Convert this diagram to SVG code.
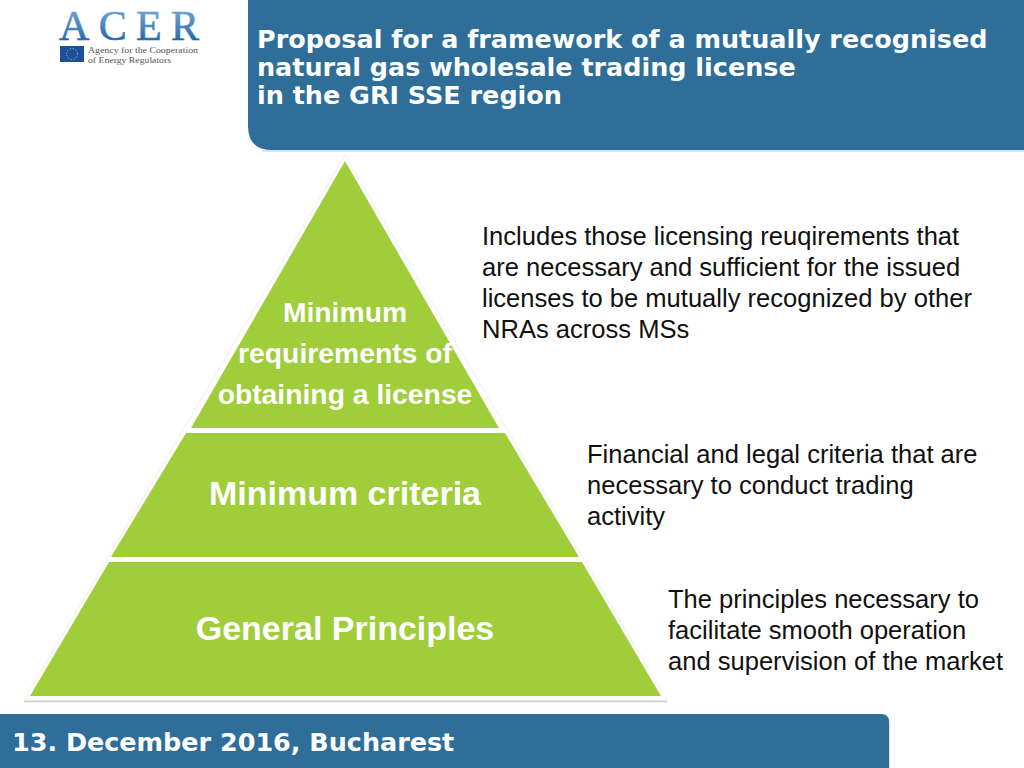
<svg xmlns="http://www.w3.org/2000/svg" width="1024" height="768" viewBox="0 0 1024 768">
<style>
.band{fill:#2e6e99}
.hd{font-family:"DejaVu Sans",Verdana,sans-serif;font-weight:700;fill:#fff;font-size:25.45px}
.lab{font-family:"Liberation Sans",Arial,sans-serif;font-weight:700;fill:#fff;text-anchor:middle}
.note{font-family:"Liberation Sans",Arial,sans-serif;font-size:25.55px;fill:#111}
.tier{fill:#a0cd3a}
.sm{font-family:"Liberation Serif",serif;font-size:8.7px;fill:#555}
</style>
<defs>
<linearGradient id="acer" x1="0" y1="0" x2="0" y2="1"><stop offset="0" stop-color="#7fb2dc"/><stop offset="1" stop-color="#12589f"/></linearGradient>
<filter id="sh" x="-5%" y="-5%" width="110%" height="110%"><feDropShadow dx="0" dy="1.5" stdDeviation="1" flood-color="#000" flood-opacity="0.35"/></filter>
<filter id="sh2" x="-5%" y="-5%" width="110%" height="110%"><feDropShadow dx="0" dy="1.5" stdDeviation="0.6" flood-color="#000" flood-opacity="0.25"/></filter>
</defs>
<rect width="1024" height="768" fill="#fff"/>
<g id="logo">
<text x="59" y="40" font-family="Liberation Serif,serif" font-size="42" fill="url(#acer)" stroke="url(#acer)" stroke-width="0.6" textLength="140" lengthAdjust="spacing">ACER</text>
<rect x="60" y="46" width="24" height="16" fill="#1c4fa0"/>
<circle cx="72" cy="54" r="5.5" fill="none" stroke="#e8d44a" stroke-width="1" stroke-dasharray="1 1.9"/>
<text class="sm" x="88" y="52.5" textLength="110" lengthAdjust="spacingAndGlyphs">Agency for the Cooperation</text>
<text class="sm" x="88" y="62.5" textLength="83" lengthAdjust="spacingAndGlyphs">of Energy Regulators</text>
</g>
<g id="header">
<rect x="262" y="150" width="762" height="2" fill="#d3e5f3"/>
<path class="band" d="M248 0H1024V150H272Q248 150 248 126Z"/>
<text class="hd" x="257" y="48">Proposal for a framework of a mutually recognised</text>
<text class="hd" x="257" y="76">natural gas wholesale trading license</text>
<text class="hd" x="257" y="104">in the GRI SSE region</text>
</g>
<g id="footer">
<path class="band" filter="url(#sh)" d="M-5 714H881Q889 714 889 722V773H-5Z"/>
<text class="hd" x="12" y="751">13. December 2016, Bucharest</text>
</g>
<g id="pyramid-base">
<path d="M345 155L667 700H24Z" fill="#fff" stroke="#eef0f2" stroke-width="1" filter="url(#sh2)"/>
</g>
<g id="tier-top">
<path class="tier" d="M345 161L499 428H191Z"/>
<text class="lab" font-size="28.3" x="345" y="322">Minimum</text>
<text class="lab" font-size="28.3" x="345" y="363">requirements of</text>
<text class="lab" font-size="28.3" x="345" y="404">obtaining a license</text>
</g>
<g id="tier-middle">
<path class="tier" d="M186 433H505L579 557H111Z"/>
<text class="lab" font-size="34" x="345" y="505">Minimum criteria</text>
</g>
<g id="tier-bottom">
<path class="tier" d="M109 562H582L661 696H30Z"/>
<text class="lab" font-size="34" x="345" y="640">General Principles</text>
</g>
<g id="note-top">
<text class="note" x="482" y="245">Includes those licensing reuqirements that</text>
<text class="note" x="482" y="276">are necessary and sufficient for the issued</text>
<text class="note" x="482" y="307">licenses to be mutually recognized by other</text>
<text class="note" x="482" y="338">NRAs across MSs</text>
</g>
<g id="note-middle">
<text class="note" x="587" y="463">Financial and legal criteria that are</text>
<text class="note" x="587" y="494">necessary to conduct trading</text>
<text class="note" x="587" y="525">activity</text>
</g>
<g id="note-bottom">
<text class="note" x="668" y="608">The principles necessary to</text>
<text class="note" x="668" y="639">facilitate smooth operation</text>
<text class="note" x="668" y="670">and supervision of the market</text>
</g>
<g id="connectors"/>
</svg>
